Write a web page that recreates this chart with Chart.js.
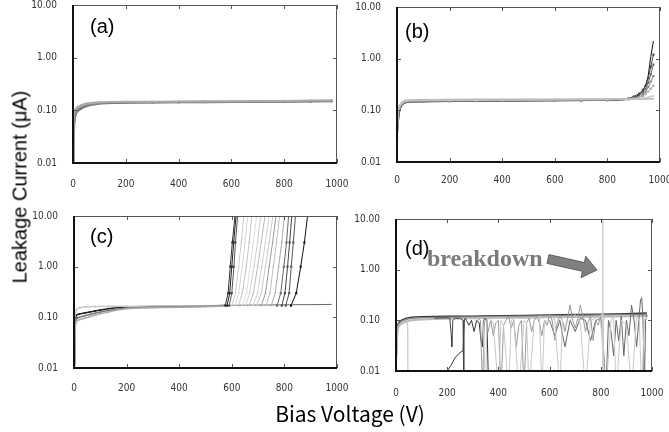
<!DOCTYPE html>
<html>
<head>
<meta charset="utf-8">
<script src="https://cdn.jsdelivr.net/npm/chart.js@4.4.1/dist/chart.umd.min.js"></script>
<style>
body { margin: 0; background: #fff; }
#wrap { position: relative; width: 669px; height: 432px; overflow: hidden; background: #fff; }
#wrap canvas { position: absolute; }
.title { position: absolute; color: #000; white-space: nowrap; line-height: 1; }
#ytitle { font: 20px "Liberation Sans", Arial, sans-serif; left: 20px; top: 187px; transform: translate(-50%, -50%) rotate(-90deg); }
#xtitle { font: 21px "Noto Sans CJK JP", sans-serif; left: 350px; top: 413px; transform: translate(-50%, -50%); }
</style>
</head>
<body>
<div id="wrap">
  <canvas id="pa"></canvas>
  <canvas id="pb"></canvas>
  <canvas id="pc"></canvas>
  <canvas id="pd"></canvas>
  <div class="title" id="ytitle">Leakage Current (μA)</div>
  <div class="title" id="xtitle">Bias Voltage (V)</div>
</div>
<script>
// axis ticks
var xTicks = [0, 200, 400, 600, 800, 1000];
var yTicks = [0.01, 0.1, 1, 10];
var yTickLabels = ['0.01', '0.10', '1.00', '10.00'];

// (a)
var aVolt = [0, 2, 5, 10, 15, 20, 30, 40, 50, 60, 80, 100, 150, 200, 300, 400, 500, 600, 700, 800, 900, 980];
var aCurrLight = [0.012, 0.07, 0.092, 0.105, 0.112, 0.117, 0.124, 0.129, 0.133, 0.136, 0.14, 0.142, 0.144, 0.145, 0.146, 0.147, 0.148, 0.149, 0.15, 0.151, 0.153, 0.155];
var aCurrMid = [0.011, 0.04, 0.07, 0.092, 0.1, 0.106, 0.114, 0.12, 0.125, 0.129, 0.134, 0.138, 0.141, 0.142, 0.143, 0.144, 0.145, 0.146, 0.147, 0.148, 0.15, 0.151];
var aCurrDark = [0.011, 0.02, 0.06, 0.085, 0.095, 0.1, 0.108, 0.115, 0.12, 0.125, 0.13, 0.135, 0.138, 0.14, 0.141, 0.142, 0.143, 0.144, 0.145, 0.146, 0.147, 0.149];

// (b)
var bVolt = [0, 5, 10, 20, 30, 50, 100, 200, 300, 400, 500, 600, 700, 800, 850, 880, 900, 920, 935, 945, 955, 965, 975];
var bCurr1 = [0.025, 0.06, 0.1, 0.13, 0.14, 0.145, 0.146, 0.148, 0.15, 0.151, 0.152, 0.153, 0.154, 0.156, 0.158, 0.163, 0.175, 0.2, 0.24, 0.3, 0.46, 1.1, 2.2];
var bCurr2 = [0.03, 0.08, 0.11, 0.135, 0.145, 0.15, 0.15, 0.151, 0.152, 0.153, 0.154, 0.155, 0.156, 0.158, 0.162, 0.17, 0.185, 0.21, 0.25, 0.3, 0.42, 0.7, 1.2];
var bCurr3 = [0.028, 0.07, 0.1, 0.13, 0.14, 0.145, 0.147, 0.15, 0.151, 0.152, 0.153, 0.154, 0.155, 0.157, 0.16, 0.165, 0.175, 0.19, 0.22, 0.26, 0.34, 0.5, 0.77];
var bCurr4 = [0.03, 0.09, 0.11, 0.135, 0.145, 0.15, 0.15, 0.151, 0.152, 0.153, 0.154, 0.155, 0.156, 0.157, 0.16, 0.163, 0.17, 0.18, 0.2, 0.23, 0.28, 0.36, 0.46];
var bCurr5 = [0.03, 0.1, 0.12, 0.14, 0.15, 0.152, 0.153, 0.154, 0.155, 0.156, 0.157, 0.158, 0.159, 0.16, 0.162, 0.165, 0.17, 0.178, 0.19, 0.205, 0.23, 0.26, 0.3];
var bCurr6 = [0.03, 0.1, 0.12, 0.14, 0.15, 0.155, 0.157, 0.158, 0.159, 0.16, 0.161, 0.162, 0.163, 0.164, 0.165, 0.166, 0.168, 0.17, 0.173, 0.176, 0.18, 0.185, 0.19];
var bCurr7 = [0.028, 0.1, 0.125, 0.145, 0.155, 0.158, 0.16, 0.162, 0.163, 0.163, 0.164, 0.164, 0.165, 0.165, 0.165, 0.165, 0.165, 0.165, 0.166, 0.166, 0.166, 0.167, 0.167];

// (c) before breakdown
var cVolt = [0, 3, 6, 10, 20, 40, 60, 80, 100, 130, 160, 200, 250, 300, 400, 500, 570];
var cCurrDark = [0.012, 0.06, 0.1, 0.112, 0.116, 0.122, 0.128, 0.134, 0.14, 0.148, 0.155, 0.16, 0.162, 0.164, 0.166, 0.168, 0.172];
var cCurrLight = [0.015, 0.1, 0.13, 0.145, 0.155, 0.16, 0.162, 0.163, 0.164, 0.165, 0.165, 0.166, 0.166, 0.167, 0.168, 0.17, 0.172];
var cCurrMid = [0.013, 0.05, 0.085, 0.095, 0.1, 0.107, 0.114, 0.12, 0.127, 0.136, 0.145, 0.152, 0.156, 0.158, 0.161, 0.165, 0.17];
var cCurrLow = [0.011, 0.04, 0.075, 0.085, 0.09, 0.096, 0.103, 0.11, 0.117, 0.127, 0.138, 0.148, 0.152, 0.155, 0.158, 0.162, 0.168];
var cFlatVolt = [570, 650, 720, 780, 820, 860, 900, 940, 980];
var cFlatCurr = [0.172, 0.174, 0.175, 0.176, 0.177, 0.178, 0.178, 0.179, 0.18];
// (c) breakdown: voltage where each device reaches these currents
var cRiseCurr = [0.17, 0.3, 1, 3, 10, 14];
var cRiseVolt = [
  [575, 586, 594, 602, 612, 616],
  [582, 592, 600, 607, 616, 620],
  [590, 600, 608, 614, 622, 626],
  [600, 614, 626, 636, 646, 650],
  [612, 626, 640, 650, 660, 664],
  [625, 640, 655, 666, 676, 680],
  [640, 656, 670, 682, 694, 698],
  [652, 668, 684, 698, 710, 714],
  [665, 682, 698, 712, 726, 730],
  [680, 698, 714, 728, 742, 746],
  [695, 712, 728, 742, 756, 760],
  [712, 728, 742, 755, 768, 772],
  [730, 745, 758, 770, 782, 786],
  [750, 765, 778, 790, 800, 804],
  [772, 786, 798, 808, 816, 820],
  [790, 802, 812, 820, 828, 832],
  [805, 818, 826, 834, 842, 846],
  [825, 845, 862, 876, 888, 892]
];
var cRiseColor = ['#333', '#222', '#555', '#ccc', '#d6d6d6', '#c4c4c4', '#ddd', '#cfcfcf', '#bbb', '#d2d2d2', '#c8c8c8', '#999', '#bdbdbd', '#aaa', '#666', '#444', '#555', '#111'];

// (d) stable devices
var dVolt = [0, 3, 6, 10, 20, 40, 60, 100, 150, 200, 300, 400, 500, 600, 700, 800, 900, 980];
var dCurrDark = [0.03, 0.06, 0.075, 0.09, 0.1, 0.11, 0.115, 0.118, 0.119, 0.12, 0.121, 0.123, 0.125, 0.127, 0.13, 0.132, 0.135, 0.14];
var dCurrMid = [0.025, 0.05, 0.07, 0.085, 0.095, 0.105, 0.11, 0.113, 0.114, 0.115, 0.117, 0.119, 0.121, 0.123, 0.125, 0.127, 0.129, 0.131];
var dCurrLight = [0.02, 0.04, 0.06, 0.075, 0.085, 0.095, 0.1, 0.104, 0.106, 0.108, 0.11, 0.112, 0.113, 0.115, 0.117, 0.118, 0.12, 0.122];
// (d) noisy devices
var dN1Volt = [30, 40, 46, 47];
var dN1Curr = [0.09, 0.1, 0.08, 0.001];
var dN2Volt = [150, 200, 210, 216, 218, 222, 230, 250, 262, 265, 267];
var dN2Curr = [0.11, 0.112, 0.11, 0.05, 0.03, 0.1, 0.11, 0.11, 0.1, 0.003, 0.003];
var dN3Volt = [195, 200, 215, 230, 245, 255, 262, 266, 270, 275, 285, 295, 305, 315, 325, 332, 338, 342, 348, 355, 362];
var dN3Curr = [0.007, 0.01, 0.013, 0.018, 0.022, 0.024, 0.025, 0.09, 0.11, 0.1, 0.08, 0.1, 0.06, 0.1, 0.09, 0.04, 0.03, 0.1, 0.11, 0.1, 0.004];
var dN4Volt = [320, 330, 338, 345, 352, 360, 370, 380, 390, 400, 410, 420, 430, 440, 450, 460, 470, 480, 490, 500, 510, 520, 530, 540, 550, 560, 570, 580, 590, 600, 610, 620, 630, 640, 650, 660, 670, 680, 690, 700, 710, 720, 730, 740, 750, 760, 770, 780, 790, 800];
var dN4Curr = [0.11, 0.1, 0.004, 0.09, 0.11, 0.06, 0.1, 0.05, 0.09, 0.1, 0.004, 0.08, 0.1, 0.12, 0.07, 0.1, 0.03, 0.08, 0.1, 0.004, 0.09, 0.11, 0.06, 0.1, 0.12, 0.09, 0.05, 0.1, 0.08, 0.13, 0.1, 0.04, 0.09, 0.12, 0.1, 0.06, 0.11, 0.2, 0.1, 0.07, 0.11, 0.2, 0.12, 0.06, 0.09, 0.12, 0.04, 0.1, 0.08, 0.12];
var dN5Volt = [340, 350, 355, 360, 380, 400, 410, 420, 440, 450, 460, 480, 500, 510, 520, 540, 560, 570, 580, 600, 620, 640, 650, 660, 680, 700, 720, 740, 760, 780, 800, 820, 840, 850, 860, 880, 900, 920, 940, 950, 960, 970, 980];
var dN5Curr = [0.1, 0.004, 0.1, 0.11, 0.09, 0.004, 0.1, 0.08, 0.004, 0.1, 0.11, 0.004, 0.1, 0.09, 0.004, 0.1, 0.12, 0.004, 0.1, 0.09, 0.11, 0.004, 0.1, 0.08, 0.1, 0.13, 0.09, 0.004, 0.1, 0.11, 0.09, 0.004, 0.1, 0.12, 0.004, 0.1, 0.08, 0.004, 0.12, 0.1, 0.004, 0.1, 0.12];
var dN6Volt = [600, 620, 640, 660, 680, 700, 720, 740, 760, 780, 800, 810, 820, 830, 840, 850, 860, 870, 880, 890, 900, 910, 920, 930, 940, 950, 955, 960, 965, 970, 975, 980];
var dN6Curr = [0.1, 0.05, 0.1, 0.03, 0.1, 0.06, 0.11, 0.1, 0.04, 0.1, 0.11, 0.03, 0.004, 0.1, 0.06, 0.02, 0.1, 0.04, 0.12, 0.02, 0.1, 0.05, 0.2, 0.1, 0.03, 0.12, 0.25, 0.28, 0.1, 0.004, 0.1, 0.13];
var dN7Volt = [795, 805, 808, 808, 811, 820];
var dN7Curr = [0.12, 0.13, 15, 0.004, 0.1, 0.12];

function series(volt, curr) {
  return volt.map(function (v, i) { return { x: v, y: curr[i] }; });
}

function line(volt, curr, color, width, radius, style) {
  return {
    data: series(volt, curr),
    borderColor: color,
    backgroundColor: color,
    borderWidth: width,
    pointRadius: radius || 0,
    pointStyle: style || 'rect',
    pointBorderWidth: 0,
    tension: 0,
    fill: false
  };
}

// frame with inward ticks on all four sides
var frame = {
  id: 'frame',
  afterDatasetsDraw: function (chart) {
    var ctx = chart.ctx, a = chart.chartArea, x = chart.scales.x, y = chart.scales.y;
    ctx.save();
    ctx.strokeStyle = '#555';
    ctx.lineWidth = 1;
    ctx.beginPath();
    ctx.moveTo(a.left, a.top + 0.5);
    ctx.lineTo(a.right - 0.5, a.top + 0.5);
    ctx.lineTo(a.right - 0.5, a.bottom);
    x.ticks.forEach(function (t) {
      var px = Math.round(x.getPixelForValue(t.value)) + 0.5;
      ctx.moveTo(px, a.bottom); ctx.lineTo(px, a.bottom - 4);
      ctx.moveTo(px, a.top); ctx.lineTo(px, a.top + 4);
    });
    y.ticks.forEach(function (t) {
      var py = Math.round(y.getPixelForValue(t.value)) + 0.5;
      ctx.moveTo(a.left, py); ctx.lineTo(a.left + 4, py);
      ctx.moveTo(a.right, py); ctx.lineTo(a.right - 4, py);
    });
    ctx.stroke();
    ctx.strokeStyle = '#111';
    ctx.lineWidth = 2;
    ctx.beginPath();
    ctx.moveTo(a.left, a.top);
    ctx.lineTo(a.left, a.bottom);
    ctx.lineTo(a.right, a.bottom);
    ctx.stroke();
    ctx.restore();
  }
};

var panelText = {
  id: 'panelText',
  afterDraw: function (chart, args, o) {
    var ctx = chart.ctx, a = chart.chartArea;
    ctx.save();
    ctx.fillStyle = '#000';
    ctx.font = '20px "Liberation Sans", Arial, sans-serif';
    ctx.fillText(o.label, a.left + o.dx, a.top + o.dy);
    if (o.note) {
      ctx.fillStyle = '#7a7a7a';
      ctx.font = 'bold 24px "Liberation Serif", serif';
      ctx.fillText(o.note, a.left + o.noteDx, a.top + o.noteDy);
      // arrow
      var ar = o.arrow;
      var x0 = a.left + ar[0], y0 = a.top + ar[1], x1 = a.left + ar[2], y1 = a.top + ar[3];
      var len = Math.hypot(x1 - x0, y1 - y0);
      ctx.translate(x0, y0);
      ctx.rotate(Math.atan2(y1 - y0, x1 - x0));
      ctx.beginPath();
      ctx.moveTo(0, -4.5);
      ctx.lineTo(len - 14, -4.5);
      ctx.lineTo(len - 14, -11);
      ctx.lineTo(len, 0);
      ctx.lineTo(len - 14, 11);
      ctx.lineTo(len - 14, 4.5);
      ctx.lineTo(0, 4.5);
      ctx.closePath();
      ctx.fillStyle = '#808080';
      ctx.fill();
      ctx.strokeStyle = '#555';
      ctx.lineWidth = 0.8;
      ctx.stroke();
    }
    ctx.restore();
  }
};

var tickFont = { family: "'Liberation Sans Narrow', 'DejaVu Sans Condensed', sans-serif", size: 10 };

function makePanel(id, box, datasets, text, xPad) {
  var cv = document.getElementById(id);
  cv.width = box.w + 75;
  cv.height = box.h + 40;
  cv.style.left = (box.l - 60) + 'px';
  cv.style.top = (box.t - 10) + 'px';
  return new Chart(cv.getContext('2d'), {
    type: 'line',
    data: { datasets: datasets },
    plugins: [frame, panelText],
    options: {
      responsive: false,
      animation: false,
      events: [],
      layout: { padding: { left: 0, top: 10, right: 15, bottom: 0 } },
      plugins: { legend: { display: false }, tooltip: { enabled: false }, panelText: text },
      scales: {
        x: {
          type: 'linear', min: 0, max: 1000,
          afterBuildTicks: function (s) { s.ticks = xTicks.map(function (v) { return { value: v }; }); },
          afterFit: function (s) { s.height = 30; s.paddingLeft = 0; s.paddingRight = 0; },
          grid: { display: false }, border: { display: false },
          ticks: { padding: xPad, maxRotation: 0, autoSkip: false, color: '#333', font: tickFont,
                   callback: function (v) { return String(v); } }
        },
        y: {
          type: 'logarithmic', min: 0.01, max: 10,
          afterBuildTicks: function (s) { s.ticks = yTicks.map(function (v) { return { value: v }; }); },
          afterFit: function (s) { s.width = 60; s.paddingTop = 0; s.paddingBottom = 0; },
          grid: { display: false }, border: { display: false },
          ticks: { padding: 8, autoSkip: false, color: '#333', font: tickFont,
                   callback: function (v) { return yTickLabels[yTicks.indexOf(v)]; } }
        }
      }
    }
  });
}

// panel (a)
makePanel('pa', { l: 73, t: 5, w: 264, h: 158 }, [
  line(aVolt, aCurrLight, '#aaa', 2, 1.5),
  line(aVolt, aCurrMid, '#888', 2, 1.5),
  line(aVolt, aCurrDark, '#666', 2, 1.5)
], { label: '(a)', dx: 17, dy: 28 }, 7);

// panel (b)
makePanel('pb', { l: 397, t: 7, w: 263, h: 155 }, [
  line(bVolt, bCurr7, '#bbb', 1.5, 1),
  line(bVolt, bCurr6, '#ccc', 1.5, 1),
  line(bVolt, bCurr5, '#aaa', 1, 1.5),
  line(bVolt, bCurr4, '#888', 1, 1.5),
  line(bVolt, bCurr3, '#666', 1, 1.5),
  line(bVolt, bCurr2, '#444', 1, 1.5),
  line(bVolt, bCurr1, '#111', 1, 1.5, 'crossRot')
], { label: '(b)', dx: 8, dy: 31 }, 4);

// panel (c)
var cSets = [];
cRiseVolt.forEach(function (v, i) {
  var dark = cRiseColor[i] < '#9';
  cSets.push(line(v, cRiseCurr, cRiseColor[i], 1, dark ? 1.5 : 1));
});
cSets.push(line(cVolt, cCurrLow, '#aaa', 1.5, 1));
cSets.push(line(cVolt, cCurrMid, '#777', 1.5, 1));
cSets.push(line(cVolt, cCurrLight, '#ccc', 1.5, 1.2));
cSets.push(line(cVolt, cCurrDark, '#222', 1.5, 1.2));
cSets.push(line(cFlatVolt, cFlatCurr, '#666', 1, 1.5, 'crossRot'));
makePanel('pc', { l: 74, t: 216, w: 263, h: 152 }, cSets, { label: '(c)', dx: 16, dy: 27 }, 6);

// panel (d)
makePanel('pd', { l: 396, t: 219, w: 256, h: 152 }, [
  line(dN7Volt, dN7Curr, '#ccc', 1),
  line(dN1Volt, dN1Curr, '#bbb', 1),
  line(dN5Volt, dN5Curr, '#c8c8c8', 1),
  line(dN4Volt, dN4Curr, '#999', 1),
  line(dN6Volt, dN6Curr, '#666', 1),
  line(dN2Volt, dN2Curr, '#444', 1),
  line(dN3Volt, dN3Curr, '#333', 1),
  line(dVolt, dCurrLight, '#bbb', 2, 1.2),
  line(dVolt, dCurrMid, '#888', 1.5, 1.2, 'crossRot'),
  line(dVolt, dCurrDark, '#333', 1.5, 1.2, 'crossRot')
], { label: '(d)', dx: 9, dy: 36, note: 'breakdown', noteDx: 31, noteDy: 47, arrow: [152, 40, 201, 51] }, 8);
</script>
</body>
</html>
